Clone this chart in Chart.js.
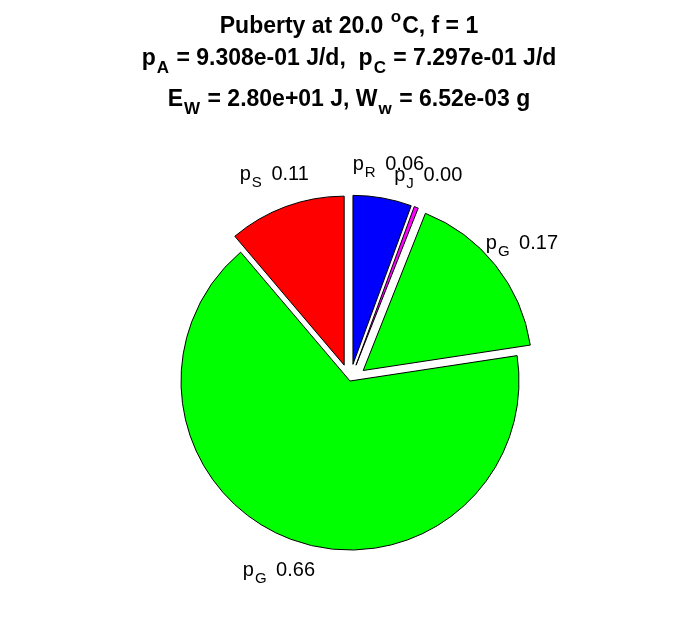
<!DOCTYPE html>
<html>
<head>
<meta charset="utf-8">
<script src="https://cdn.jsdelivr.net/npm/chart.js@4.4.0/dist/chart.umd.min.js"></script>
<style>
  html, body { margin: 0; padding: 0; background: #fff; }
</style>
</head>
<body>
<canvas id="my-chart" width="696" height="618"></canvas>
<script>
// slices, clockwise from 12 o'clock
const subNames = ["R", "J", "G", "G", "S"];
const fractions = [0.056, 0.004, 0.166, 0.662, 0.112];
const sliceColors = ["#0000ff", "#ff00ff", "#00ff00", "#00ff00", "#ff0000"];
const exploded = [true, true, true, false, true];

// title values
const temperature = 20.0;
const fLevel = 1;
const pA = 0.9308;
const pC = 0.7297;
const EW = 28.0;
const Ww = 0.00652;

const FAM = '"Liberation Sans", Arial, Helvetica, sans-serif';

// matlab style 9.308e-01
function expo(v, d) {
  const s = v.toExponential(d);
  const [m, e] = s.split("e");
  const sign = e[0] === "-" ? "-" : "+";
  const n = Math.abs(parseInt(e, 10));
  return m + "e" + sign + (n < 10 ? "0" + n : "" + n);
}

// draw text pieces with sub/superscripts, centred on cx
function drawRich(ctx, parts, cx, base, size, bold, subPad) {
  const wgt = bold ? "bold " : "";
  const small = Math.round(size * 0.75);
  const pad = subPad || 2;
  const fontOf = (p) => wgt + (p.sub || p.sup ? small : size) + "px " + FAM;
  let total = 0;
  parts.forEach((p) => {
    ctx.font = fontOf(p);
    p.w = ctx.measureText(p.t).width + (p.sub || p.sup ? pad : 0);
    total += p.w;
  });
  let x = cx - total / 2;
  ctx.fillStyle = "#000";
  ctx.textAlign = "left";
  ctx.textBaseline = "alphabetic";
  parts.forEach((p) => {
    ctx.font = fontOf(p);
    let y = base;
    if (p.sub) y += size * 0.36;
    if (p.sup) y -= size * 0.48;
    ctx.fillText(p.t, x + (p.sub || p.sup ? 1 : 0), y);
    x += p.w;
  });
}

const explodePlugin = {
  id: "explode",
  afterDatasetsUpdate(chart) {
    const meta = chart.getDatasetMeta(0);
    meta.data.forEach((el, i) => {
      if (!exploded[i]) return;
      const mid = (el.startAngle + el.endAngle) / 2;
      const d = 0.1 * el.outerRadius;
      el.x += Math.cos(mid) * d;
      el.y += Math.sin(mid) * d;
    });
  },
};

const labelPlugin = {
  id: "pieLabels",
  afterDatasetsDraw(chart) {
    const ctx = chart.ctx;
    const area = chart.chartArea;
    const cx = (area.left + area.right) / 2;
    const cy = (area.top + area.bottom) / 2;
    const meta = chart.getDatasetMeta(0);
    ctx.save();
    meta.data.forEach((el, i) => {
      const mid = (el.startAngle + el.endAngle) / 2;
      const r = el.outerRadius * (exploded[i] ? 1.3 : 1.2);
      const x = cx + Math.cos(mid) * r;
      const y = cy + Math.sin(mid) * r;
      drawRich(ctx, [
        { t: "p" },
        { t: subNames[i], sub: true },
        { t: " " + fractions[i].toFixed(2) },
      ], x, y + 5, 20, false, 5);
    });
    ctx.restore();
  },
};

const titlePlugin = {
  id: "richTitle",
  afterDraw(chart) {
    const ctx = chart.ctx;
    const cx = 349;
    ctx.save();
    drawRich(ctx, [
      { t: "Puberty at " + temperature.toFixed(1) + " " },
      { t: "o", sup: true },
      { t: "C, f = " + fLevel },
    ], cx, 33, 23, true);
    drawRich(ctx, [
      { t: "p" }, { t: "A", sub: true },
      { t: " = " + expo(pA, 3) + " J/d,  p" }, { t: "C", sub: true },
      { t: " = " + expo(pC, 3) + " J/d" },
    ], cx, 65, 23, true);
    drawRich(ctx, [
      { t: "E" }, { t: "W", sub: true },
      { t: " = " + expo(EW, 2) + " J, W" }, { t: "w", sub: true },
      { t: " = " + expo(Ww, 2) + " g" },
    ], cx, 106, 23, true);
    ctx.restore();
  },
};

const ctx = document.getElementById("my-chart").getContext("2d");
const chart = new Chart(ctx, {
  type: "pie",
  data: {
    labels: subNames.map((s) => "p" + s),
    datasets: [
      {
        data: fractions,
        backgroundColor: sliceColors,
        borderColor: "#000000",
        borderWidth: 1,
      },
    ],
  },
  options: {
    responsive: false,
    animation: false,
    events: [],
    radius: 169,
    layout: { padding: { top: 144, left: 4, right: 0, bottom: 0 } },
    plugins: {
      legend: { display: false },
      title: { display: false },
      tooltip: { enabled: false },
    },
  },
  plugins: [explodePlugin, labelPlugin, titlePlugin],
});
</script>
</body>
</html>
